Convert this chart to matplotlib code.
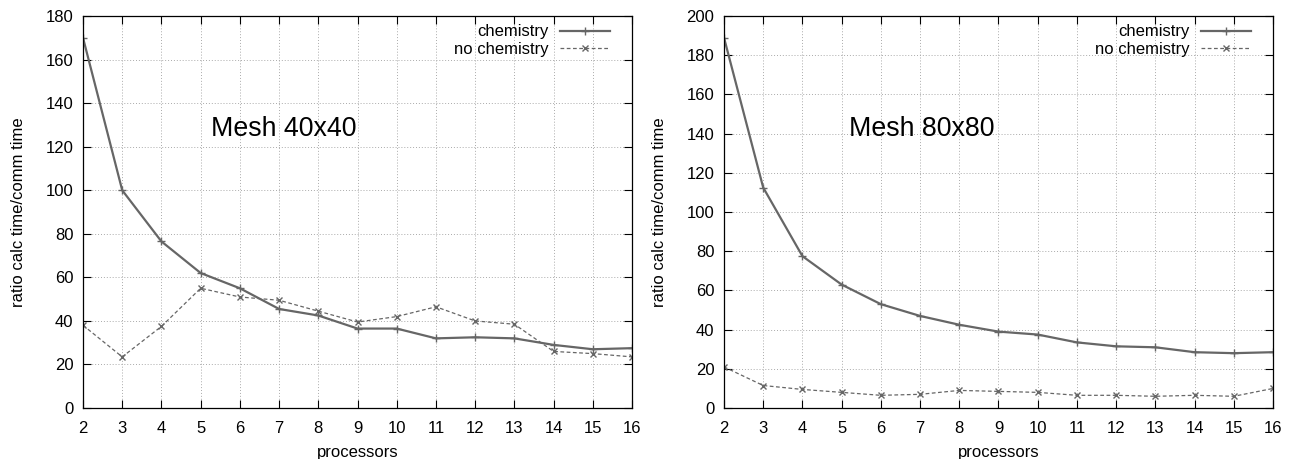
import numpy as np
import matplotlib
matplotlib.use("Agg")
import matplotlib.pyplot as plt

plt.rcParams['font.family'] = ['Liberation Sans', 'DejaVu Sans']

processors = [2, 3, 4, 5, 6, 7, 8, 9, 10, 11, 12, 13, 14, 15, 16]

# Mesh 40x40
chem_40 = [170, 100, 76.5, 62, 55, 45.5, 42.5, 36.5, 36.5, 32, 32.5, 32, 29, 27, 27.5]
nochem_40 = [38, 23.5, 37.5, 55, 51, 49.5, 44.5, 39.5, 42, 46.5, 40, 38.5, 26, 25, 23.5]

# Mesh 80x80
chem_80 = [189, 112.5, 77.5, 63, 53, 47, 42.5, 39, 37.5, 33.5, 31.5, 31, 28.5, 28, 28.5]
nochem_80 = [21, 11.5, 9.5, 8, 6.5, 7, 9, 8.5, 8, 6.5, 6.5, 6, 6.5, 6, 10]

panels = [
    ("Mesh 40x40", chem_40, nochem_40, 180, (5.27, 128)),
    ("Mesh 80x80", chem_80, nochem_80, 200, (5.2, 142.5)),
]

fig = plt.figure(figsize=(12.97, 4.59), dpi=100)
lefts = [0.064, 0.5582]
col = '#666666'
fs = 12

for left, (title, chem, nochem, ymax, pos) in zip(lefts, panels):
    ax = fig.add_axes([left, 0.111, 0.4233, 0.854])
    ax.plot(processors, chem, color=col, lw=1.6, marker='+', ms=6, mew=1.0,
            label='chemistry')
    ax.plot(processors, nochem, color=col, lw=0.9, ls=(0, (3, 2)), marker='x',
            ms=5, mew=1.0, label='no chemistry')
    ax.set_xlim(2, 16)
    ax.set_ylim(0, ymax)
    ax.set_xticks(processors)
    ax.set_yticks(np.arange(0, ymax + 1, 20))
    ax.grid(True, color='#aaaaaa', ls=(0, (1, 2)), lw=0.7)
    ax.tick_params(axis='x', pad=9)
    ax.tick_params(axis='y', pad=7)
    ax.tick_params(direction='in', top=True, right=True, length=6,
                   width=0.8, labelsize=fs, colors='black')
    for s in ax.spines.values():
        s.set_linewidth(0.9)
    ax.set_xlabel('processors', fontsize=fs, labelpad=7)
    ax.set_ylabel('ratio calc time/comm time', fontsize=fs, labelpad=14)
    ax.text(pos[0], pos[1], title, fontsize=19.3, ha='left', va='center')
    ax.legend(loc='upper right', bbox_to_anchor=(0.975, 1.0), frameon=False,
              markerfirst=False, fontsize=fs, handlelength=3.0,
              handletextpad=0.7, labelspacing=0.15, borderaxespad=0.1)

fig.savefig('out.png', dpi=100)
